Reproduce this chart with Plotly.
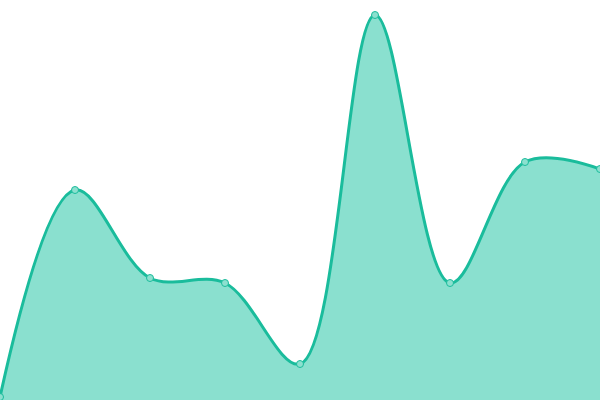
import plotly.graph_objects as go

steps = [0, 1, 2, 3, 4, 5, 6, 7, 8]
values = [3, 210, 122, 117, 36, 385, 117, 238, 231]

fig = go.Figure()
fig.add_trace(go.Scatter(
    x=steps, y=values,
    mode='lines+markers',
    line=dict(color='#1abc9c', width=3, shape='spline', smoothing=1),
    marker=dict(size=7, color='#8ce0cf', line=dict(color='#1abc9c', width=1)),
    fill='tozeroy',
    fillcolor='#8ae0cf',
    hoverinfo='x+y',
))

fig.update_layout(
    width=600, height=400,
    margin=dict(l=0, r=0, t=0, b=0),
    paper_bgcolor='white', plot_bgcolor='white',
    showlegend=False,
    xaxis=dict(range=[0, 8], visible=False, fixedrange=True),
    yaxis=dict(range=[0, 400], visible=False, fixedrange=True),
)

# body has an 8px default margin, drop it so the plot sits flush in the window
fig.write_html("out.html", config={'displayModeBar': False},
               post_script="document.body.style.margin='0';document.body.style.overflow='hidden';")
